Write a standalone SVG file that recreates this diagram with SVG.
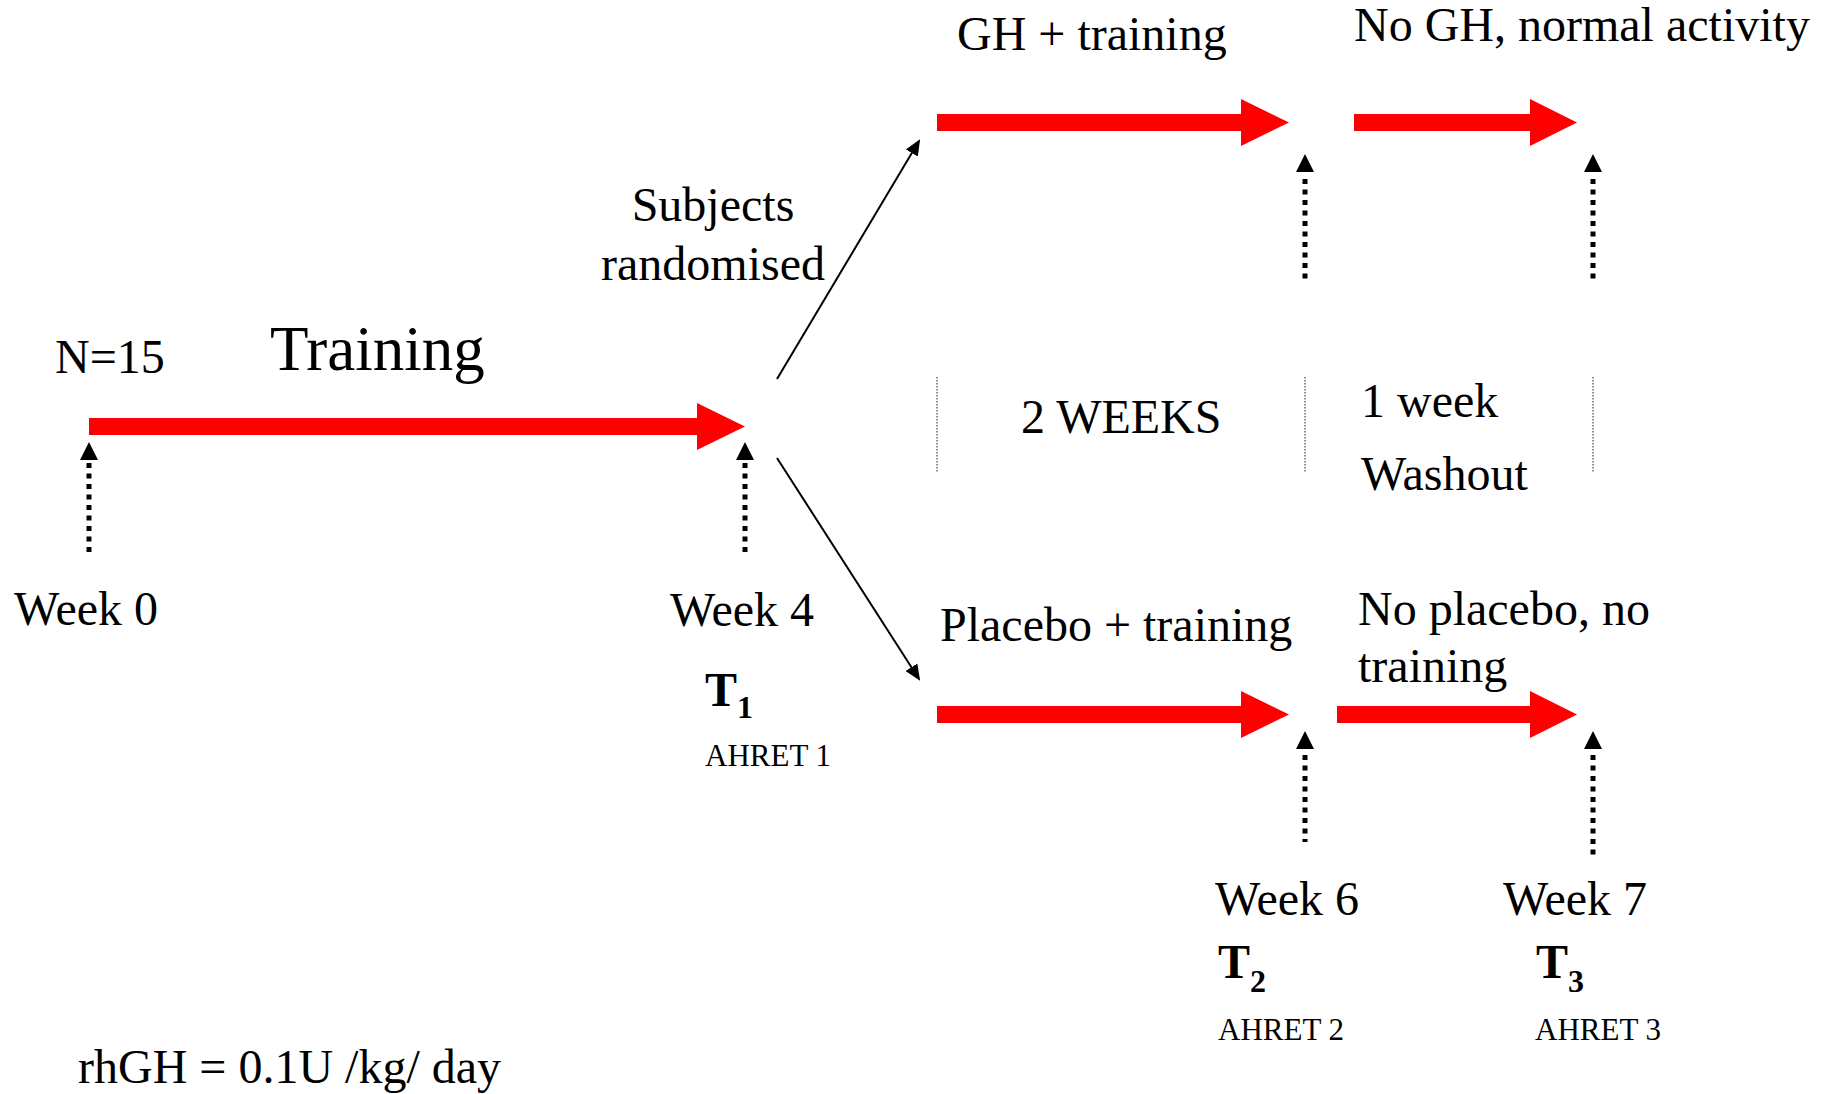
<svg xmlns="http://www.w3.org/2000/svg" width="1826" height="1094" viewBox="0 0 1826 1094">
<style>
text{font-family:"Liberation Serif","Times New Roman",serif;fill:#000}
.t{font-size:48px}
.big{font-size:63px}
.sm{font-size:31px}
.T{font-size:48px;font-weight:bold}
.sub{font-size:32px;font-weight:bold}
.red{fill:#ff0000}
.dash{stroke:#000;stroke-width:5;stroke-dasharray:5 5.5;fill:none}
.head{fill:#000}
.sep{stroke:#444;stroke-width:1.2;stroke-dasharray:1.5 1.5;fill:none}
.thin{stroke:#000;stroke-width:2;fill:none}
</style>
<defs>
<marker id="ah" markerWidth="8" markerHeight="8" refX="7" refY="4" orient="auto" markerUnits="strokeWidth">
<path d="M0,0.5 L8,4 L0,7.5 Z" fill="#000"/>
</marker>
</defs>
<rect width="1826" height="1094" fill="#fff"/>
<g id="connectors">
<path id="arrow-main" class="red" d="M89,418 H697 V403 L745,426.5 L697,450 V435 H89 Z"/>
<path id="arrow-gh" class="red" d="M937,114 H1241 V99 L1289,122.5 L1241,146 V131 H937 Z"/>
<path id="arrow-nogh" class="red" d="M1354,114 H1530 V99 L1577,122.5 L1530,146 V131 H1354 Z"/>
<path id="arrow-plac" class="red" d="M937,706 H1241 V691 L1289,714.5 L1241,738 V723 H937 Z"/>
<path id="arrow-noplac" class="red" d="M1337,706 H1530 V691 L1577,714.5 L1530,738 V723 H1337 Z"/>
<line class="thin" x1="777" y1="379" x2="919" y2="141" marker-end="url(#ah)"/>
<line class="thin" x1="777" y1="458" x2="919" y2="679" marker-end="url(#ah)"/>
<line class="dash" x1="89" y1="463" x2="89" y2="555"/>
<path class="head" d="M89,442 L98,460 L80,460 Z"/>
<line class="dash" x1="745" y1="463" x2="745" y2="555"/>
<path class="head" d="M745,442 L754,460 L736,460 Z"/>
<line class="dash" x1="1305" y1="179" x2="1305" y2="283"/>
<path class="head" d="M1305,154 L1314,172 L1296,172 Z"/>
<line class="dash" x1="1593" y1="179" x2="1593" y2="283"/>
<path class="head" d="M1593,154 L1602,172 L1584,172 Z"/>
<line class="dash" x1="1305" y1="755" x2="1305" y2="842"/>
<path class="head" d="M1305,731 L1314,749 L1296,749 Z"/>
<line class="dash" x1="1593" y1="755" x2="1593" y2="858"/>
<path class="head" d="M1593,731 L1602,749 L1584,749 Z"/>
<line class="sep" x1="937" y1="377" x2="937" y2="472"/>
<line class="sep" x1="1305" y1="377" x2="1305" y2="472"/>
<line class="sep" x1="1593" y1="377" x2="1593" y2="472"/>
</g>
<g id="n15"><text class="t" x="55" y="373">N=15</text></g>
<g id="training"><text class="big" x="270" y="370">Training</text></g>
<g id="randomised"><text class="t" x="713" y="221" text-anchor="middle">Subjects</text><text class="t" x="713" y="280" text-anchor="middle">randomised</text></g>
<g id="gh"><text class="t" x="957" y="50">GH + training</text></g>
<g id="nogh"><text class="t" x="1354" y="41">No GH, normal activity</text></g>
<g id="weeks2"><text class="t" x="1021" y="433">2 WEEKS</text></g>
<g id="washout"><text class="t" x="1361" y="417">1 week</text><text class="t" x="1361" y="490">Washout</text></g>
<g id="placebo"><text class="t" x="940" y="641">Placebo + training</text></g>
<g id="noplacebo"><text class="t" x="1358" y="625">No placebo, no</text><text class="t" x="1358" y="682">training</text></g>
<g id="week0"><text class="t" x="14" y="625">Week 0</text></g>
<g id="week4"><text class="t" x="670" y="626">Week 4</text><text class="T" x="705" y="706">T<tspan class="sub" dy="12">1</tspan></text><text class="sm" x="705" y="766">AHRET 1</text></g>
<g id="week6"><text class="t" x="1215" y="915">Week 6</text><text class="T" x="1218" y="978">T<tspan class="sub" dy="14">2</tspan></text><text class="sm" x="1218" y="1040">AHRET 2</text></g>
<g id="week7"><text class="t" x="1503" y="915">Week 7</text><text class="T" x="1536" y="978">T<tspan class="sub" dy="14">3</tspan></text><text class="sm" x="1535" y="1040">AHRET 3</text></g>
<g id="dose"><text class="t" x="78" y="1083">rhGH = 0.1U /kg/ day</text></g>
</svg>
